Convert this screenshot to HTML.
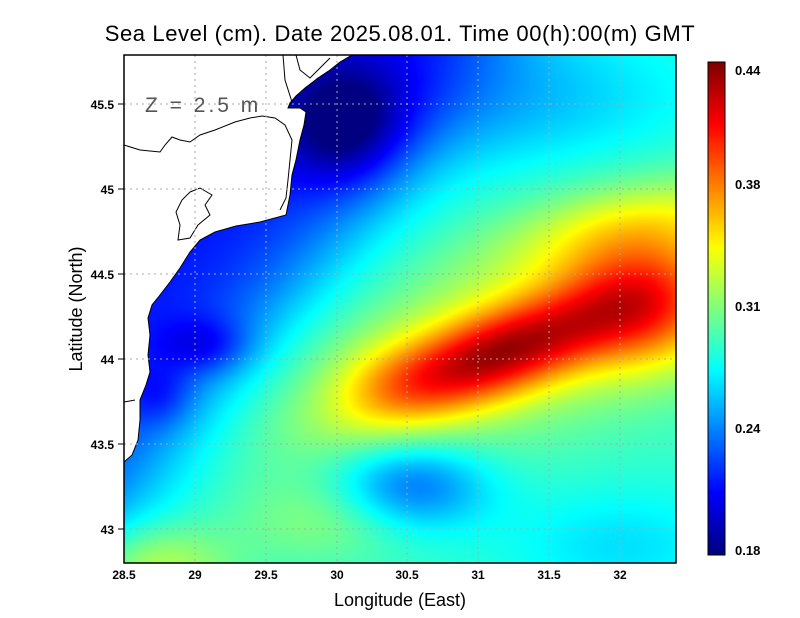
<!DOCTYPE html>
<html><head><meta charset="utf-8"><style>
body{margin:0;background:#fff;width:800px;height:618px;overflow:hidden;position:relative;font-family:"Liberation Sans",sans-serif}
canvas{position:absolute}
svg{position:absolute;left:0;top:0}
</style></head><body>
<canvas id="f" width="552" height="508" style="left:124px;top:55px"></canvas>
<canvas id="cb" width="17" height="493" style="left:708px;top:62px"></canvas>
<svg width="800" height="618" xmlns="http://www.w3.org/2000/svg">
<path d="M124,55 L352,55 L340,62 L330,70 L318,78 L305,88 L296,96 L290,103 L288,108 L300,108 L306,112 L304,125 L300,140 L296,160 L292,175 L290,195 L286,215 L260,222 L236,226 L215,232 L200,240 L190,252 L180,268 L170,282 L160,295 L152,305 L148,318 L150,335 L148,355 L150,372 L146,385 L140,400 L140,420 L138,440 L132,455 L124,462 Z" fill="#fff" stroke="none"/>
<path d="M352,55 L340,62 L330,70 L318,78 L305,88 L296,96 L290,103 L288,108 L300,108 L306,112 L304,125 L300,140 L296,160 L292,175 L290,195 L286,215 L260,222 L236,226 L215,232 L200,240 L190,252 L180,268 L170,282 L160,295 L152,305 L148,318 L150,335 L148,355 L150,372 L146,385 L140,400 L140,420 L138,440 L132,455 L124,462" fill="none" stroke="#000" stroke-width="1"/>
<path d="M124,145 L140,150 L160,152 L165,145 L172,137 L180,140 L190,142 L200,135 L215,130 L235,122 L250,118 L262,116 L275,118 L285,125 L292,140 L290,160 L288,180 L286,198 L280,210 M124,402 L135,400" fill="none" stroke="#000" stroke-width="1"/>
<path d="M190,192 L200,188 L212,195 L205,205 L210,215 L198,225 L190,238 L178,240 L180,225 L176,212 L182,200 Z" fill="none" stroke="#000" stroke-width="1"/>
<path d="M283,55 L285,80 L292,102 M296,55 L300,70 L310,78 L320,68 L330,58" fill="none" stroke="#000" stroke-width="1"/>
<g stroke="#aaa" stroke-width="1" stroke-dasharray="2,4">
<line x1="195" y1="55" x2="195" y2="563"/><line x1="266" y1="55" x2="266" y2="563"/><line x1="337" y1="55" x2="337" y2="563"/><line x1="407" y1="55" x2="407" y2="563"/><line x1="478" y1="55" x2="478" y2="563"/><line x1="549" y1="55" x2="549" y2="563"/><line x1="620" y1="55" x2="620" y2="563"/>
<line x1="124" y1="104" x2="676" y2="104"/><line x1="124" y1="189" x2="676" y2="189"/><line x1="124" y1="274" x2="676" y2="274"/><line x1="124" y1="359" x2="676" y2="359"/><line x1="124" y1="444" x2="676" y2="444"/><line x1="124" y1="529" x2="676" y2="529"/>
</g>
<rect x="124" y="55" width="552" height="508" fill="none" stroke="#000" stroke-width="1.5"/>
<rect x="708" y="62" width="17" height="493" fill="none" stroke="#000" stroke-width="1"/>
<g stroke="#000"><line x1="118" y1="104" x2="124" y2="104"/><line x1="118" y1="189" x2="124" y2="189"/><line x1="118" y1="274" x2="124" y2="274"/><line x1="118" y1="359" x2="124" y2="359"/><line x1="118" y1="444" x2="124" y2="444"/><line x1="118" y1="529" x2="124" y2="529"/></g>
<text x="145" y="112" font-size="21" fill="#555" letter-spacing="3">Z = 2.5 m</text>
<text x="400" y="41" font-size="22" text-anchor="middle" fill="#000" letter-spacing="0.6">Sea Level (cm). Date 2025.08.01. Time 00(h):00(m) GMT</text>
<text x="400" y="606" font-size="18" text-anchor="middle">Longitude (East)</text>
<text transform="translate(82,309) rotate(-90)" font-size="18" text-anchor="middle">Latitude (North)</text>
<g font-size="12" font-weight="bold" text-anchor="middle">
<text x="124" y="579">28.5</text><text x="195" y="579">29</text><text x="266" y="579">29.5</text><text x="337" y="579">30</text><text x="407" y="579">30.5</text><text x="478" y="579">31</text><text x="549" y="579">31.5</text><text x="620" y="579">32</text>
</g>
<g font-size="12" font-weight="bold" text-anchor="end">
<text x="114" y="109">45.5</text><text x="114" y="194">45</text><text x="114" y="279">44.5</text><text x="114" y="364">44</text><text x="114" y="449">43.5</text><text x="114" y="534">43</text>
</g>
<g font-size="13" font-weight="bold">
<text x="735" y="75">0.44</text><text x="735" y="189">0.38</text><text x="735" y="311">0.31</text><text x="735" y="433">0.24</text><text x="735" y="555">0.18</text>
</g>
</svg>
<script>
function jet(t){t=Math.max(0,Math.min(1,t));
function c(x){return Math.max(0,Math.min(1,1.5-Math.abs(4*t-x)));}
return [c(3)*255,c(2)*255,c(1)*255];}
var G=[[0.10,495,355,90,30,-20],[0.07,645,305,55,45,0],[0.045,530,330,200,65,-20],[-0.05,345,125,42,42,0],[-0.03,205,345,32,20,0],[-0.02,160,395,22,22,0],[-0.055,410,485,55,32,0],[-0.025,520,100,130,50,0],[-0.02,620,545,80,40,0],[0.04,150,565,55,30,0],[0.03,630,225,90,30,-10],[0.02,330,520,60,30,0],[0.015,390,380,40,30,0]];
var cv=document.getElementById('f'),ctx=cv.getContext('2d'),W=552,H=508,im=ctx.createImageData(W,H);
for(var j=0;j<H;j++)for(var i=0;i<W;i++){var x=i+124,y=j+55;
var d=((x-124)*445+(y-500)*346)/563.6;
var v=0.29-0.075/(1+Math.exp((d-5)/35));
for(var k=0;k<G.length;k++){var g=G[k],a=g[5]*Math.PI/180,dx=x-g[1],dy=y-g[2];
var u=dx*Math.cos(a)+dy*Math.sin(a),w=-dx*Math.sin(a)+dy*Math.cos(a);
v+=g[0]*Math.exp(-0.5*(u*u/(g[3]*g[3])+w*w/(g[4]*g[4])));}
var c=jet((v-0.18)/0.26),p=(j*W+i)*4;im.data[p]=c[0];im.data[p+1]=c[1];im.data[p+2]=c[2];im.data[p+3]=255;}
ctx.putImageData(im,0,0);
var cb=document.getElementById('cb').getContext('2d');
for(var j=0;j<493;j++){var c=jet(1-j/492);cb.fillStyle='rgb('+(c[0]|0)+','+(c[1]|0)+','+(c[2]|0)+')';cb.fillRect(0,j,17,1);}
</script>
</body></html>
